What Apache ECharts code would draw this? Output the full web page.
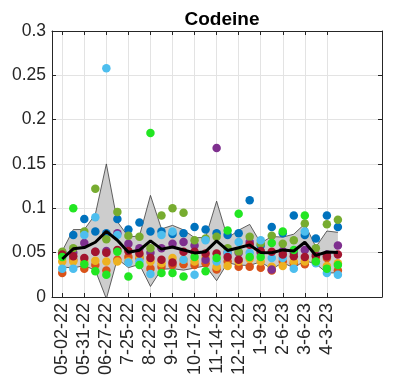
<!DOCTYPE html>
<html>
<head>
<meta charset="utf-8">
<script src="https://cdn.jsdelivr.net/npm/echarts@6/dist/echarts.min.js"></script>
<style>
html,body{margin:0;padding:0;background:#fff;}
#chart{width:398px;height:390px;}
</style>
</head>
<body>
<div id="chart"></div>
<script>
// ---- data ----
const title = 'Codeine';
const tickLabels = ['05-02-22','05-31-22','06-27-22','7-25-22','8-22-22','9-19-22','10-17-22','11-14-22','12-12-22','1-9-23','2-6-23','3-6-23','4-3-23'];
const tickPositions = [0,2,4,6,8,10,12,14,16,18,20,22,24];
const sampleIndex = [0,1,2,3,4,5,6,7,8,9,10,11,12,13,14,15,16,17,18,19,20,21,22,23,24,25];
const yTicks = [0,0.05,0.1,0.15,0.2,0.25,0.3];

const siteBlue      = [.050,.070,.088,.074,.072,.088,.076,.084,.074,.074,.071,.072,.079,.076,.072,.070,.072,.109,.058,.079,.072,.092,.070,.066,.092,.079];
const siteOrange    = [.027,.042,.032,.036,.030,.042,.045,.044,.032,.034,.036,.037,.036,.038,.031,.040,.034,.034,.033,.030,.040,.038,.037,.040,.044,.030];
const siteYellow    = [.040,.040,.040,.041,.040,.040,.040,.046,.040,.038,.044,.042,.040,.045,.034,.035,.040,.043,.040,.034,.035,.040,.040,.042,.035,.038];
const sitePurple    = [.050,.050,.061,.051,.052,.072,.060,.055,.050,.055,.060,.062,.058,.042,.168,.050,.050,.062,.050,.031,.052,.050,.053,.048,.048,.058];
const siteOlive     = [.051,.055,.074,.122,.065,.096,.069,.068,.055,.092,.100,.095,.064,.066,.068,.055,.051,.068,.060,.069,.060,.064,.083,.055,.082,.087];
const siteLightBlue = [.032,.032,.070,.090,.258,.070,.039,.040,.026,.070,.074,.042,.025,.064,.040,.050,.062,.050,.064,.044,.044,.032,.074,.038,.027,.025];
const siteDarkRed   = [.048,.046,.044,.051,.050,.053,.052,.049,.044,.042,.039,.051,.051,.049,.049,.045,.042,.059,.052,.051,.048,.046,.045,.046,.046,.048];
const siteGreen     = [.045,.100,.037,.029,.025,.051,.023,.036,.185,.027,.027,.023,.045,.029,.044,.075,.094,.045,.045,.061,.074,.053,.092,.040,.032,.036];

const sites = [
  {name:'S1', values: siteBlue,      color:'#0072BD'},
  {name:'S2', values: siteOrange,    color:'#D95319'},
  {name:'S3', values: siteYellow,    color:'#EDB120'},
  {name:'S4', values: sitePurple,    color:'#7E2F8E'},
  {name:'S5', values: siteOlive,     color:'#77AC30'},
  {name:'S6', values: siteLightBlue, color:'#4DBEEE'},
  {name:'S7', values: siteDarkRed,   color:'#A2142F'},
  {name:'S8', values: siteGreen,     color:'#22E622'}
];

// mean and sample standard deviation per sampling date
const meanVals = sampleIndex.map((_, i) => {
  const v = sites.map(s => s.values[i]);
  return v.reduce((a,b)=>a+b,0)/v.length;
});
const sdVals = sampleIndex.map((_, i) => {
  const v = sites.map(s => s.values[i]);
  const m = meanVals[i];
  return Math.sqrt(v.reduce((a,b)=>a+(b-m)*(b-m),0)/(v.length-1));
});
const upperVals = meanVals.map((m,i)=> m + sdVals[i]);
const lowerVals = meanVals.map((m,i)=> m - sdVals[i]);

const txt = '#262626';
const font = 'Liberation Sans, Arial, Helvetica, sans-serif';

const series = [];
series.push({
  type:'custom', silent:true, clip:true, z:1,
  data: sampleIndex.map((x,i)=>[x, upperVals[i], lowerVals[i]]),
  encode:{x:0, y:[1,2]},
  renderItem: function(params, api){
    if (params.dataIndex !== 0) return null;
    const up = sampleIndex.map((x,i)=>api.coord([x, upperVals[i]]));
    const lo = sampleIndex.map((x,i)=>api.coord([x, lowerVals[i]]));
    const poly = up.concat(lo.slice().reverse());
    const cs = params.coordSys;
    return {
      type:'group',
      clipPath:{type:'rect', shape:{x:cs.x, y:cs.y, width:cs.width, height:cs.height}},
      children:[
        {type:'polygon', shape:{points:poly}, style:{fill:'#cdcdcd', stroke:null}},
        {type:'polyline', shape:{points:up}, style:{fill:null, stroke:'#3c3c3c', lineWidth:0.8}},
        {type:'polyline', shape:{points:lo}, style:{fill:null, stroke:'#3c3c3c', lineWidth:0.8}}
      ]
    };
  }
});
sites.forEach(s => {
  series.push({
    type:'scatter', name:s.name, data: sampleIndex.map((x,i)=>[x, s.values[i]]),
    symbol:'circle', symbolSize:8.5, itemStyle:{color:s.color, opacity:1}, z:3
  });
});
series.push({
  type:'line', data: sampleIndex.map((x,i)=>[x, meanVals[i]]),
  symbol:'none', lineStyle:{color:'#000', width:3}, z:4, silent:true
});

const chart = echarts.init(document.getElementById('chart'), null, {renderer:'canvas'});
chart.setOption({
  animation:false,
  backgroundColor:'#fff',
  title:{text:title, left:217, top:5, textAlign:'center',
    textStyle:{fontFamily:font, fontWeight:'bold', fontSize:19, color:'#000'}},
  grid:{left:52, right:16, top:31, bottom:93, containLabel:false},
  xAxis:[{
    type:'value', min:-0.93, max:29, position:'bottom',
    axisLine:{show:true, onZero:false, lineStyle:{color:txt, width:1}},
    axisTick:{show:true, inside:true, length:4, customValues:tickPositions, lineStyle:{color:txt}},
    axisLabel:{show:true, rotate:90, customValues:tickPositions, margin:6,
      fontFamily:font, fontSize:18, color:txt,
      formatter:(v)=>{ const k = tickPositions.indexOf(Math.round(v)); return k>=0 ? tickLabels[k] : ''; }},
    splitLine:{show:true, lineStyle:{color:'#e3e3e3', width:1}}
  },{
    type:'value', min:-0.93, max:29, position:'top',
    axisLine:{show:true, onZero:false, lineStyle:{color:txt, width:1}},
    axisTick:{show:true, inside:true, length:4, customValues:tickPositions, lineStyle:{color:txt}},
    axisLabel:{show:false}, splitLine:{show:false}
  }],
  yAxis:[{
    type:'value', min:0, max:0.3, interval:0.05, position:'left',
    axisLine:{show:true, onZero:false, lineStyle:{color:txt, width:1}},
    axisTick:{show:true, inside:true, length:4, lineStyle:{color:txt}},
    axisLabel:{fontFamily:font, fontSize:17.5, color:txt, margin:6},
    splitLine:{show:true, lineStyle:{color:'#e3e3e3', width:1}}
  },{
    type:'value', min:0, max:0.3, interval:0.05, position:'right',
    axisLine:{show:true, onZero:false, lineStyle:{color:txt, width:1}},
    axisTick:{show:true, inside:true, length:4, lineStyle:{color:txt}},
    axisLabel:{show:false}, splitLine:{show:false}
  }],
  series: series
});
</script>
</body>
</html>
